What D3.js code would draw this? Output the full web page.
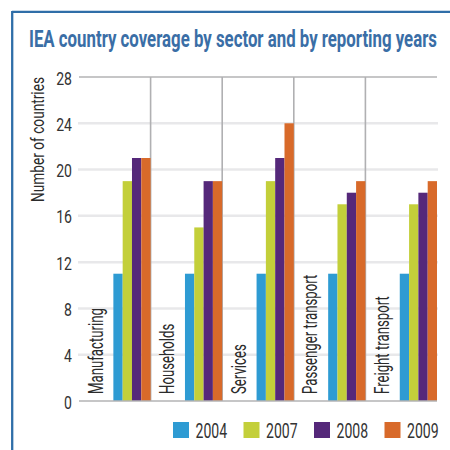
<!DOCTYPE html>
<html>
<head>
<meta charset="utf-8">
<script src="https://cdn.jsdelivr.net/npm/d3@7"></script>
<style>
  body { margin: 0; background: #fff; }
  text { font-family: Roboto, "Liberation Sans", sans-serif; }
</style>
</head>
<body>
<script>
// données
const sectors = ["Manufacturing", "Households", "Services", "Passenger transport", "Freight transport"];
const years = ["2004", "2007", "2008", "2009"];
const v2004 = [11, 11, 11, 11, 11];
const v2007 = [19, 15, 19, 17, 17];
const v2008 = [21, 19, 21, 18, 18];
const v2009 = [21, 19, 24, 19, 19];
const yTicks = [0, 4, 8, 12, 16, 20, 24, 28];

const colors = ["#2e9bd3", "#c3cf3a", "#55287a", "#d86a2a"];
const series = [v2004, v2007, v2008, v2009];

const width = 450, height = 450;
const plot = { left: 79, right: 437, top: 77, bottom: 401 };

const svg = d3.select("body").append("svg")
  .attr("width", width)
  .attr("height", height);

// place un texte et le rend plus étroit (police condensée) via un transform
function place(sel, pos, f, rot) {
  sel.attr("transform", function(d, i) {
    const p = pos(d, i);
    const r = rot ? " rotate(-90)" : "";
    return `translate(${p[0]},${p[1]})${r} scale(${f},1)`;
  });
}

// cadre bleu
svg.append("line")
  .attr("x1", 12).attr("x2", 450).attr("y1", 11.8).attr("y2", 11.8)
  .attr("stroke", "#2f6ea8").attr("stroke-width", 2.3);
svg.append("line")
  .attr("x1", 12.2).attr("x2", 12.2).attr("y1", 11).attr("y2", 450)
  .attr("stroke", "#2f6ea8").attr("stroke-width", 2.3);

// titre
const title = svg.append("text")
  .attr("font-size", 24).attr("font-weight", "bold")
  .attr("fill", "#3a6ea6")
  .text("IEA country coverage by sector and by reporting years");
const tw = title.node().getComputedTextLength();
title.call(place, () => [29, 46.5], 408 / tw);

const x0 = d3.scaleBand().domain(sectors).range([plot.left, plot.right]).paddingInner(0).paddingOuter(0);
const x1 = d3.scaleBand().domain(years).range([x0.bandwidth() * 0.48, x0.bandwidth()]).padding(0);
const y = d3.scaleLinear().domain([0, 28]).range([plot.bottom, plot.top]);

// grille
svg.append("g").selectAll("line")
  .data(yTicks.filter(d => d > 0 && d < 28))
  .join("line")
  .attr("x1", plot.left - 1).attr("x2", plot.right + 1)
  .attr("y1", d => y(d)).attr("y2", d => y(d))
  .attr("stroke", "#e8e8ea").attr("stroke-width", 2.5);

// ligne du haut
svg.append("line")
  .attr("x1", plot.left).attr("x2", plot.right)
  .attr("y1", y(28)).attr("y2", y(28))
  .attr("stroke", "#b3b3b5").attr("stroke-width", 1.5);

// séparateurs verticaux
svg.append("g").selectAll("line")
  .data(sectors.slice(1))
  .join("line")
  .attr("x1", d => x0(d)).attr("x2", d => x0(d))
  .attr("y1", plot.top).attr("y2", plot.bottom)
  .attr("stroke", "#b0b0b2").attr("stroke-width", 1.6);

// barres
const groups = svg.append("g").selectAll("g")
  .data(sectors)
  .join("g")
  .attr("transform", d => `translate(${x0(d)},0)`);

groups.selectAll("rect")
  .data((d, i) => years.map((yr, j) => ({ yr, j, v: series[j][i] })))
  .join("rect")
  .attr("x", d => x1(d.yr))
  .attr("width", x1.bandwidth())
  .attr("y", d => y(d.v))
  .attr("height", d => y(0) - y(d.v))
  .attr("fill", d => colors[d.j]);

// axe du bas
svg.append("line")
  .attr("x1", plot.left).attr("x2", plot.right)
  .attr("y1", y(0)).attr("y2", y(0))
  .attr("stroke", "#b3b3b5").attr("stroke-width", 1.6);

// libellés des secteurs
groups.append("text")
  .attr("font-size", 20)
  .attr("fill", "#2b2b2b")
  .text(d => d)
  .call(place, () => [23.5, plot.bottom - 7], 0.66, true);

// graduations
svg.append("g").selectAll("text")
  .data(yTicks)
  .join("text")
  .attr("text-anchor", "end")
  .attr("font-size", 18)
  .attr("fill", "#333")
  .text(d => d)
  .call(place, d => [72, y(d) + 7.5], 0.78);

// titre de l'axe
svg.append("text")
  .attr("text-anchor", "end")
  .attr("font-size", 19)
  .attr("fill", "#2b2b2b")
  .text("Number of countries")
  .call(place, () => [43.5, plot.top], 0.72, true);

// légende
const legend = svg.append("g").selectAll("g")
  .data(years)
  .join("g")
  .attr("transform", (d, i) => `translate(${173 + i * 70.5},422)`);

legend.append("rect")
  .attr("width", 16).attr("height", 16)
  .attr("fill", (d, i) => colors[i]);

legend.append("text")
  .attr("font-size", 21)
  .attr("fill", "#333")
  .text(d => d)
  .call(place, () => [22.5, 15.5], 0.67);
</script>
</body>
</html>
